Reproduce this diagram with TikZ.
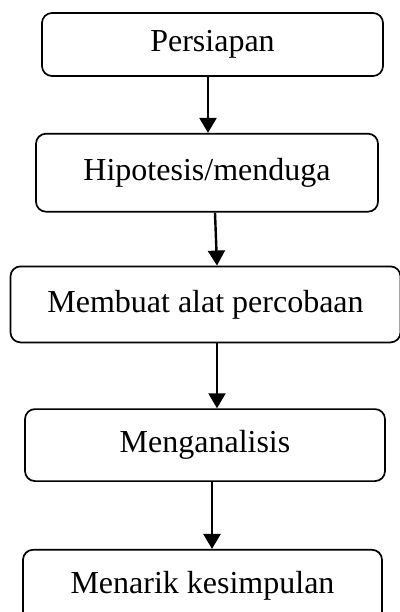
\documentclass[tikz,border=0pt]{standalone}
\usepackage{fontspec}
\setmainfont{Liberation Serif}
\usetikzlibrary{arrows.meta, positioning}

\begin{document}
\begin{tikzpicture}[
        box/.style={rectangle, draw=black, line width=0.85pt, rounded corners=5pt, font=\fontsize{16}{19}\selectfont, align=center},
        arrow/.style={-{Triangle[width=8.5pt, length=7.5pt]}, line width=1.2pt}
    ]
        \clip (0,0) rectangle (200pt,-306pt);
        % Nodes
        \node (persiapan) [box, minimum width=170.5pt, minimum height=31.5pt] at (106.25pt,-22.25pt) {Persiapan};
        \node (hipotesis) [box, minimum width=171pt, minimum height=39pt, below=28pt of persiapan, xshift=-2.75pt] {Hipotesis/menduga};
        \node (alat) [box, minimum width=195pt, minimum height=38pt, below=26.5pt of hipotesis, xshift=-0.75pt] {Membuat alat percobaan};
        \node (analisis) [box, minimum width=180pt, minimum height=36pt, below=32.5pt of alat, xshift=-0.25pt] {Menganalisis};
        \node (simpulan) [box, minimum width=179.5pt, minimum height=36pt, below=33.5pt of analisis, xshift=-1.25pt] {Menarik kesimpulan};

        % Arrows
        \draw [arrow] ([xshift=-2.25pt]persiapan.south) -- ([xshift=0.5pt]hipotesis.north);
        \draw [arrow] ([xshift=4pt]hipotesis.south) -- ([xshift=5.75pt]alat.north);
        \draw [arrow] ([xshift=5.75pt]alat.south) -- ([xshift=6pt]analisis.north);
        \draw [arrow] ([xshift=3.5pt]analisis.south) -- ([xshift=4.75pt]simpulan.north);
    \end{tikzpicture}
\end{document}
